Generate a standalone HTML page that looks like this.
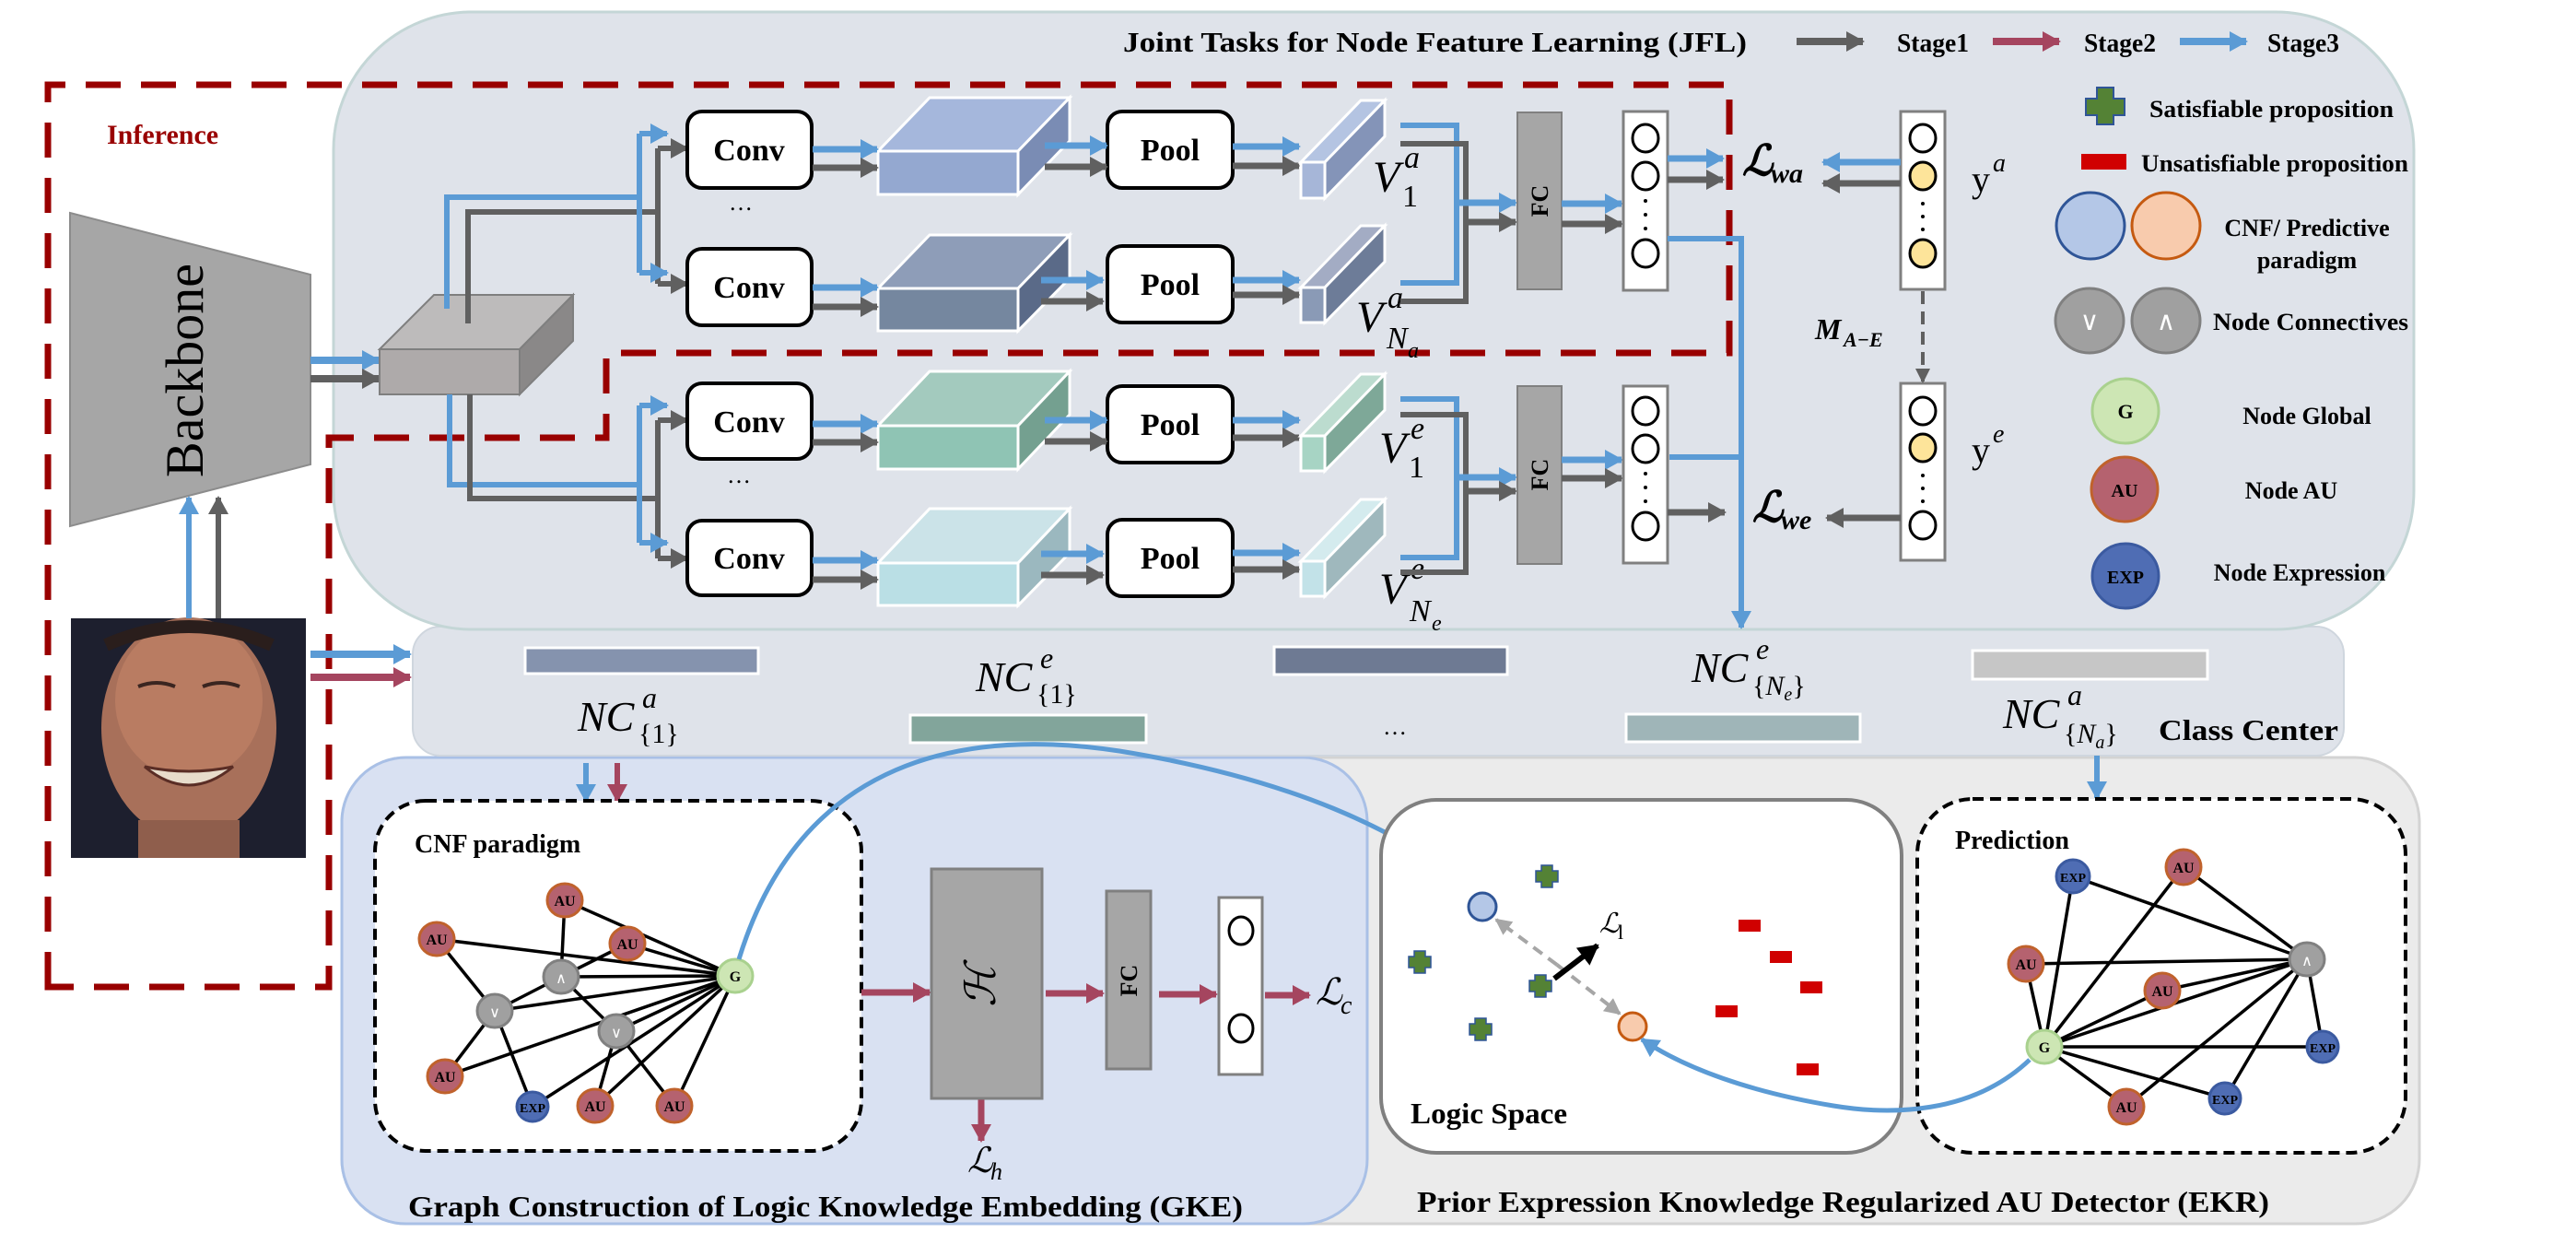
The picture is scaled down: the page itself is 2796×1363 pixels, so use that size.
<!DOCTYPE html>
<html><head><meta charset="utf-8"><style>
html,body{margin:0;padding:0;background:#fff}
svg{display:block}
text{font-family:"Liberation Serif","DejaVu Serif",serif}
.b{font-weight:bold}
.i{font-style:italic}
</style></head><body>
<svg width="2796" height="1363" viewBox="0 0 2796 1363" xmlns="http://www.w3.org/2000/svg">
<defs>
<marker id="mb" markerUnits="userSpaceOnUse" markerWidth="20" markerHeight="22" refX="18" refY="11" orient="auto"><path d="M0,0 L20,11 L0,22 z" fill="#5b9bd5"/></marker>
<marker id="mg" markerUnits="userSpaceOnUse" markerWidth="20" markerHeight="22" refX="18" refY="11" orient="auto"><path d="M0,0 L20,11 L0,22 z" fill="#606060"/></marker>
<marker id="mr" markerUnits="userSpaceOnUse" markerWidth="20" markerHeight="22" refX="18" refY="11" orient="auto"><path d="M0,0 L20,11 L0,22 z" fill="#a5455f"/></marker>
<marker id="mk" markerUnits="userSpaceOnUse" markerWidth="22" markerHeight="24" refX="20" refY="12" orient="auto"><path d="M0,0 L22,12 L0,24 z" fill="#000"/></marker>
<marker id="ml" markerUnits="userSpaceOnUse" markerWidth="18" markerHeight="18" refX="16" refY="9" orient="auto"><path d="M0,0 L18,9 L0,18 z" fill="#a6a6a6"/></marker>
<marker id="ms" markerUnits="userSpaceOnUse" markerWidth="16" markerHeight="16" refX="14" refY="8" orient="auto"><path d="M0,0 L16,8 L0,16 z" fill="#606060"/></marker>
</defs>

<rect x="371" y="822" width="2255" height="506" rx="70" fill="#ebebeb" stroke="#d3d3d3" stroke-width="3"/>
<rect x="371" y="822" width="1113" height="506" rx="70" fill="#d9e1f2" stroke="#a9c0e6" stroke-width="3"/>
<rect x="448" y="680" width="2096" height="140" rx="30" fill="#dfe3ea" stroke="#cfd6de" stroke-width="2"/>
<rect x="362" y="13" width="2258" height="670" rx="150" fill="#dfe3ea" stroke="#c4d6d6" stroke-width="3"/>

<text x="1219" y="56" font-size="31" class="b" textLength="677" lengthAdjust="spacingAndGlyphs">Joint Tasks for Node Feature Learning (JFL)</text>
<line x1="1950" y1="45" x2="2022" y2="45" stroke="#606060" stroke-width="8" marker-end="url(#mg)"/>
<text x="2059" y="56" font-size="28" class="b" textLength="78" lengthAdjust="spacingAndGlyphs">Stage1</text>
<line x1="2163" y1="45" x2="2235" y2="45" stroke="#a5455f" stroke-width="8" marker-end="url(#mr)"/>
<text x="2262" y="56" font-size="28" class="b" textLength="78" lengthAdjust="spacingAndGlyphs">Stage2</text>
<line x1="2366" y1="45" x2="2438" y2="45" stroke="#5b9bd5" stroke-width="8" marker-end="url(#mb)"/>
<text x="2461" y="56" font-size="28" class="b" textLength="78" lengthAdjust="spacingAndGlyphs">Stage3</text>

<path d="M2276,95 h18 v12 h12 v18 h-12 v10 h-18 v-10 h-12 v-18 h12 z" fill="#548235" stroke="#2f5597" stroke-width="2"/>
<text x="2333" y="127" font-size="26" class="b" textLength="265" lengthAdjust="spacingAndGlyphs">Satisfiable proposition</text>
<rect x="2259" y="167" width="49" height="17" fill="#d00000"/>
<text x="2324" y="186" font-size="26" class="b" textLength="290" lengthAdjust="spacingAndGlyphs">Unsatisfiable proposition</text>
<ellipse cx="2269" cy="245" rx="37" ry="36" fill="#b4c7e7" stroke="#2f5597" stroke-width="3"/>
<ellipse cx="2351" cy="245" rx="37" ry="36" fill="#f8cbad" stroke="#c55a11" stroke-width="3"/>
<text x="2504" y="256" font-size="26" class="b" text-anchor="middle">CNF/ Predictive</text>
<text x="2504" y="291" font-size="26" class="b" text-anchor="middle">paradigm</text>
<ellipse cx="2268" cy="348" rx="37" ry="35" fill="#a0a0a0" stroke="#808080" stroke-width="3"/>
<ellipse cx="2351" cy="348" rx="37" ry="35" fill="#a0a0a0" stroke="#808080" stroke-width="3"/>
<text x="2268" y="358" font-size="28" fill="#fff" text-anchor="middle" font-family="DejaVu Sans">∨</text>
<text x="2351" y="358" font-size="28" fill="#fff" text-anchor="middle" font-family="DejaVu Sans">∧</text>
<text x="2402" y="358" font-size="26" class="b" textLength="212" lengthAdjust="spacingAndGlyphs">Node Connectives</text>
<ellipse cx="2307" cy="446" rx="36" ry="35" fill="#cde6b4" stroke="#a9d18e" stroke-width="3"/>
<text x="2307" y="454" font-size="22" class="b" text-anchor="middle">G</text>
<text x="2504" y="460" font-size="26" class="b" text-anchor="middle">Node Global</text>
<ellipse cx="2306" cy="531" rx="36" ry="35" fill="#b5626f" stroke="#c0622c" stroke-width="3"/>
<text x="2306" y="539" font-size="20" class="b" text-anchor="middle">AU</text>
<text x="2487" y="541" font-size="26" class="b" text-anchor="middle">Node AU</text>
<ellipse cx="2307" cy="625" rx="36" ry="35" fill="#4f6db4" stroke="#3b5aa0" stroke-width="3"/>
<text x="2307" y="633" font-size="20" class="b" text-anchor="middle">EXP</text>
<text x="2496" y="630" font-size="26" class="b" text-anchor="middle">Node Expression</text>

<path d="M52,1071 L52,92 L1877,92 L1877,383 L658,383 L658,475 L370,475 L357,475 L357,1071 Z" fill="none" stroke="#990000" stroke-width="7" stroke-dasharray="38,22"/>
<text x="116" y="156" font-size="30" class="b" fill="#990000">Inference</text>

<polygon points="76,231 337,298 337,504 76,571" fill="#a6a6a6" stroke="#8c8c8c" stroke-width="2"/>
<text x="0" y="0" font-size="58" transform="translate(220,402) rotate(-90)" text-anchor="middle">Backbone</text>

<rect x="77" y="671" width="255" height="260" fill="#1d1f2e"/>
<ellipse cx="205" cy="790" rx="95" ry="120" fill="#a8705a"/>
<ellipse cx="205" cy="760" rx="80" ry="85" fill="#b97c62"/>
<rect x="150" y="890" width="110" height="41" fill="#8f5e4c"/>
<path d="M150,745 q20,-8 40,0 M220,745 q20,-8 40,0" stroke="#3a2520" stroke-width="4" fill="none"/>
<path d="M157,832 q48,40 96,0 q-48,10 -96,0z" fill="#e8dccb" stroke="#5a2d25" stroke-width="3"/>
<path d="M115,700 q90,-40 180,0" stroke="#2a1e1c" stroke-width="14" fill="none"/>

<line x1="205" y1="671" x2="205" y2="540" stroke="#5b9bd5" stroke-width="6" marker-end="url(#mb)"/>
<line x1="237" y1="671" x2="237" y2="540" stroke="#606060" stroke-width="6" marker-end="url(#mg)"/>
<line x1="337" y1="710" x2="445" y2="710" stroke="#5b9bd5" stroke-width="8" marker-end="url(#mb)"/>
<line x1="337" y1="735" x2="445" y2="735" stroke="#a5455f" stroke-width="8" marker-end="url(#mr)"/>

<line x1="337" y1="391" x2="411" y2="391" stroke="#5b9bd5" stroke-width="8" marker-end="url(#mb)"/>
<line x1="337" y1="411" x2="411" y2="411" stroke="#606060" stroke-width="8" marker-end="url(#mg)"/>

<polygon points="412,379 471,320 622,320 564,379" fill="#bdbbbb" stroke="#7f7f7f" stroke-width="2"/>
<polygon points="564,379 622,320 622,370 564,428" fill="#8a8888" stroke="#7f7f7f" stroke-width="2"/>
<rect x="412" y="379" width="152" height="49" fill="#aeaaaa" stroke="#7f7f7f" stroke-width="2"/>

<g fill="none" stroke-width="6">
<path d="M485,335 L485,214 L694,214" stroke="#5b9bd5"/>
<path d="M508,351 L508,230 L714,230" stroke="#606060"/>
<path d="M488,428 L488,526 L694,526" stroke="#5b9bd5"/>
<path d="M510,428 L510,541 L714,541" stroke="#606060"/>
<path d="M694,145 L694,296" stroke="#5b9bd5"/>
<path d="M714,161 L714,308" stroke="#606060"/>
<path d="M694,440 L694,589" stroke="#5b9bd5"/>
<path d="M714,456 L714,606" stroke="#606060"/>
</g>
<g stroke-width="6">
<line x1="694" y1="145" x2="724" y2="145" stroke="#5b9bd5" marker-end="url(#mb)"/>
<line x1="714" y1="161" x2="746" y2="161" stroke="#606060" marker-end="url(#mg)"/>
<line x1="694" y1="296" x2="724" y2="296" stroke="#5b9bd5" marker-end="url(#mb)"/>
<line x1="714" y1="308" x2="746" y2="308" stroke="#606060" marker-end="url(#mg)"/>
<line x1="694" y1="440" x2="724" y2="440" stroke="#5b9bd5" marker-end="url(#mb)"/>
<line x1="714" y1="456" x2="746" y2="456" stroke="#606060" marker-end="url(#mg)"/>
<line x1="694" y1="589" x2="724" y2="589" stroke="#5b9bd5" marker-end="url(#mb)"/>
<line x1="714" y1="606" x2="746" y2="606" stroke="#606060" marker-end="url(#mg)"/>
</g>

<g>
<rect x="746" y="121" width="135" height="83" rx="16" fill="#fff" stroke="#000" stroke-width="4"/>
<text x="813" y="174" font-size="34" class="b" text-anchor="middle">Conv</text>
<rect x="1202" y="121" width="136" height="83" rx="16" fill="#fff" stroke="#000" stroke-width="4"/>
<text x="1270" y="174" font-size="34" class="b" text-anchor="middle">Pool</text>
<polygon points="953,164 1009,106 1161,106 1105,164" fill="#a5b7dc" stroke="#fff" stroke-width="3"/>
<polygon points="1105,164 1161,106 1161,153 1105,211" fill="#7a8cb4" stroke="#fff" stroke-width="3"/>
<rect x="953" y="164" width="152" height="47" fill="#94a8d0" stroke="#fff" stroke-width="3"/>
<rect x="746" y="270" width="135" height="83" rx="16" fill="#fff" stroke="#000" stroke-width="4"/>
<text x="813" y="323" font-size="34" class="b" text-anchor="middle">Conv</text>
<rect x="1202" y="267" width="136" height="83" rx="16" fill="#fff" stroke="#000" stroke-width="4"/>
<text x="1270" y="320" font-size="34" class="b" text-anchor="middle">Pool</text>
<polygon points="953,313 1009,255 1161,255 1105,313" fill="#8e9db8" stroke="#fff" stroke-width="3"/>
<polygon points="1105,313 1161,255 1161,302 1105,359" fill="#5a6a88" stroke="#fff" stroke-width="3"/>
<rect x="953" y="313" width="152" height="46" fill="#75879f" stroke="#fff" stroke-width="3"/>
<rect x="746" y="416" width="135" height="82" rx="16" fill="#fff" stroke="#000" stroke-width="4"/>
<text x="813" y="469" font-size="34" class="b" text-anchor="middle">Conv</text>
<rect x="1202" y="419" width="136" height="83" rx="16" fill="#fff" stroke="#000" stroke-width="4"/>
<text x="1270" y="472" font-size="34" class="b" text-anchor="middle">Pool</text>
<polygon points="953,462 1009,403 1161,403 1105,462" fill="#a3cabe" stroke="#fff" stroke-width="3"/>
<polygon points="1105,462 1161,403 1161,450 1105,509" fill="#74a090" stroke="#fff" stroke-width="3"/>
<rect x="953" y="462" width="152" height="47" fill="#8fc4b4" stroke="#fff" stroke-width="3"/>
<rect x="746" y="565" width="135" height="81" rx="16" fill="#fff" stroke="#000" stroke-width="4"/>
<text x="813" y="617" font-size="34" class="b" text-anchor="middle">Conv</text>
<rect x="1202" y="564" width="136" height="83" rx="16" fill="#fff" stroke="#000" stroke-width="4"/>
<text x="1270" y="617" font-size="34" class="b" text-anchor="middle">Pool</text>
<polygon points="953,611 1009,552 1161,552 1105,611" fill="#cbe3e8" stroke="#fff" stroke-width="3"/>
<polygon points="1105,611 1161,552 1161,600 1105,657" fill="#9bb8bf" stroke="#fff" stroke-width="3"/>
<rect x="953" y="611" width="152" height="46" fill="#badfe5" stroke="#fff" stroke-width="3"/>
</g>
<text x="804" y="228" font-size="26" text-anchor="middle">…</text>
<text x="802" y="524" font-size="26" text-anchor="middle">…</text>

<g stroke-width="7">
<line x1="882" y1="162" x2="952" y2="162" stroke="#5b9bd5" marker-end="url(#mb)"/>
<line x1="882" y1="182" x2="952" y2="182" stroke="#606060" marker-end="url(#mg)"/>
<line x1="882" y1="312" x2="952" y2="312" stroke="#5b9bd5" marker-end="url(#mb)"/>
<line x1="882" y1="333" x2="952" y2="333" stroke="#606060" marker-end="url(#mg)"/>
<line x1="882" y1="460" x2="952" y2="460" stroke="#5b9bd5" marker-end="url(#mb)"/>
<line x1="882" y1="480" x2="952" y2="480" stroke="#606060" marker-end="url(#mg)"/>
<line x1="882" y1="608" x2="952" y2="608" stroke="#5b9bd5" marker-end="url(#mb)"/>
<line x1="882" y1="629" x2="952" y2="629" stroke="#606060" marker-end="url(#mg)"/>
<line x1="1134" y1="158" x2="1201" y2="158" stroke="#5b9bd5" marker-end="url(#mb)"/>
<line x1="1134" y1="181" x2="1201" y2="181" stroke="#606060" marker-end="url(#mg)"/>
<line x1="1130" y1="304" x2="1197" y2="304" stroke="#5b9bd5" marker-end="url(#mb)"/>
<line x1="1130" y1="327" x2="1197" y2="327" stroke="#606060" marker-end="url(#mg)"/>
<line x1="1134" y1="456" x2="1201" y2="456" stroke="#5b9bd5" marker-end="url(#mb)"/>
<line x1="1134" y1="479" x2="1201" y2="479" stroke="#606060" marker-end="url(#mg)"/>
<line x1="1130" y1="601" x2="1197" y2="601" stroke="#5b9bd5" marker-end="url(#mb)"/>
<line x1="1130" y1="624" x2="1197" y2="624" stroke="#606060" marker-end="url(#mg)"/>
<line x1="1338" y1="159" x2="1410" y2="159" stroke="#5b9bd5" marker-end="url(#mb)"/>
<line x1="1338" y1="180" x2="1410" y2="180" stroke="#606060" marker-end="url(#mg)"/>
<line x1="1338" y1="304" x2="1410" y2="304" stroke="#5b9bd5" marker-end="url(#mb)"/>
<line x1="1338" y1="320" x2="1410" y2="320" stroke="#606060" marker-end="url(#mg)"/>
<line x1="1338" y1="456" x2="1410" y2="456" stroke="#5b9bd5" marker-end="url(#mb)"/>
<line x1="1338" y1="475" x2="1410" y2="475" stroke="#606060" marker-end="url(#mg)"/>
<line x1="1338" y1="600" x2="1410" y2="600" stroke="#5b9bd5" marker-end="url(#mb)"/>
<line x1="1338" y1="618" x2="1410" y2="618" stroke="#606060" marker-end="url(#mg)"/>
</g>

<g stroke="#fff" stroke-width="3">
<polygon points="1412,176 1477,109 1503,109 1438,176" fill="#b4c4e2"/>
<polygon points="1438,176 1503,109 1503,148 1438,215" fill="#8494b8"/>
<rect x="1412" y="176" width="26" height="39" fill="#a6b6d8"/>
<polygon points="1412,312 1477,245 1503,245 1438,312" fill="#a3acc4"/>
<polygon points="1438,312 1503,245 1503,284 1438,350" fill="#6d7c98"/>
<rect x="1412" y="312" width="26" height="38" fill="#8a9ab6"/>
<polygon points="1412,473 1477,406 1503,406 1438,473" fill="#bcdccf"/>
<polygon points="1438,473 1503,406 1503,445 1438,511" fill="#7ea898"/>
<rect x="1412" y="473" width="26" height="38" fill="#a7d4c4"/>
<polygon points="1412,609 1477,542 1503,542 1438,609" fill="#d4ebee"/>
<polygon points="1438,609 1503,542 1503,581 1438,647" fill="#9fb8bd"/>
<rect x="1412" y="609" width="26" height="38" fill="#c2e2e8"/>
</g>
<g class="i" font-size="48">
<text x="1490" y="208">V</text><text x="1524" y="182" font-size="34">a</text><text x="1522" y="224" font-size="34" font-style="normal">1</text>
<text x="1472" y="360">V</text><text x="1506" y="334" font-size="34">a</text><text x="1505" y="378" font-size="34">N</text><text x="1528" y="388" font-size="24">a</text>
<text x="1497" y="502">V</text><text x="1531" y="476" font-size="34">e</text><text x="1529" y="518" font-size="34" font-style="normal">1</text>
<text x="1497" y="655">V</text><text x="1531" y="628" font-size="34">e</text><text x="1530" y="674" font-size="34">N</text><text x="1554" y="684" font-size="24">e</text>
</g>

<g fill="none" stroke-width="6">
<path d="M1520,136 L1581,136 L1581,307 L1520,307" stroke="#5b9bd5"/>
<path d="M1520,156 L1591,156 L1591,327 L1520,327" stroke="#606060"/>
<path d="M1520,433 L1581,433 L1581,605 L1520,605" stroke="#5b9bd5"/>
<path d="M1520,450 L1591,450 L1591,621 L1520,621" stroke="#606060"/>
</g>
<g stroke-width="7">
<line x1="1581" y1="220" x2="1645" y2="220" stroke="#5b9bd5" marker-end="url(#mb)"/>
<line x1="1591" y1="241" x2="1645" y2="241" stroke="#606060" marker-end="url(#mg)"/>
<line x1="1581" y1="518" x2="1645" y2="518" stroke="#5b9bd5" marker-end="url(#mb)"/>
<line x1="1591" y1="533" x2="1645" y2="533" stroke="#606060" marker-end="url(#mg)"/>
</g>
<rect x="1647" y="122" width="48" height="192" fill="#a6a6a6" stroke="#808080" stroke-width="2"/>
<text transform="translate(1680,218) rotate(-90)" font-size="26" class="b" text-anchor="middle">FC</text>
<rect x="1647" y="419" width="48" height="193" fill="#a6a6a6" stroke="#808080" stroke-width="2"/>
<text transform="translate(1680,515) rotate(-90)" font-size="26" class="b" text-anchor="middle">FC</text>
<g stroke-width="7">
<line x1="1695" y1="221" x2="1760" y2="221" stroke="#5b9bd5" marker-end="url(#mb)"/>
<line x1="1695" y1="243" x2="1760" y2="243" stroke="#606060" marker-end="url(#mg)"/>
<line x1="1695" y1="499" x2="1760" y2="499" stroke="#5b9bd5" marker-end="url(#mb)"/>
<line x1="1695" y1="519" x2="1760" y2="519" stroke="#606060" marker-end="url(#mg)"/>
</g>
<g stroke="#000" stroke-width="3">
<rect x="1762" y="121" width="48" height="194" fill="#fff" stroke="#808080"/>
<ellipse cx="1786" cy="150" rx="14" ry="15" fill="#fff"/>
<ellipse cx="1786" cy="191" rx="14" ry="15" fill="#fff"/>
<ellipse cx="1786" cy="275" rx="14" ry="15" fill="#fff"/>
<rect x="1762" y="419" width="48" height="192" fill="#fff" stroke="#808080"/>
<ellipse cx="1786" cy="446" rx="14" ry="15" fill="#fff"/>
<ellipse cx="1786" cy="487" rx="14" ry="15" fill="#fff"/>
<ellipse cx="1786" cy="571" rx="14" ry="15" fill="#fff"/>
<rect x="2063" y="121" width="48" height="193" fill="#fff" stroke="#808080"/>
<ellipse cx="2087" cy="150" rx="14" ry="15" fill="#fff"/>
<ellipse cx="2087" cy="191" rx="14" ry="15" fill="#fde49a"/>
<ellipse cx="2087" cy="275" rx="14" ry="15" fill="#fde49a"/>
<rect x="2063" y="416" width="48" height="192" fill="#fff" stroke="#808080"/>
<ellipse cx="2087" cy="446" rx="14" ry="15" fill="#fff"/>
<ellipse cx="2087" cy="486" rx="14" ry="15" fill="#fde49a"/>
<ellipse cx="2087" cy="570" rx="14" ry="15" fill="#fff"/>
</g>
<g fill="#000">
<circle cx="1786" cy="218" r="2"/><circle cx="1786" cy="233" r="2"/><circle cx="1786" cy="248" r="2"/>
<circle cx="1786" cy="514" r="2"/><circle cx="1786" cy="529" r="2"/><circle cx="1786" cy="544" r="2"/>
<circle cx="2087" cy="221" r="2"/><circle cx="2087" cy="235" r="2"/><circle cx="2087" cy="249" r="2"/>
<circle cx="2087" cy="516" r="2"/><circle cx="2087" cy="530" r="2"/><circle cx="2087" cy="544" r="2"/>
</g>

<g stroke-width="7">
<line x1="1810" y1="172" x2="1870" y2="172" stroke="#5b9bd5" marker-end="url(#mb)"/>
<line x1="1810" y1="195" x2="1870" y2="195" stroke="#606060" marker-end="url(#mg)"/>
<line x1="1810" y1="556" x2="1872" y2="556" stroke="#606060" marker-end="url(#mg)"/>
<line x1="2063" y1="176" x2="1979" y2="176" stroke="#5b9bd5" marker-end="url(#mb)"/>
<line x1="2063" y1="199" x2="1979" y2="199" stroke="#606060" marker-end="url(#mg)"/>
<line x1="2063" y1="562" x2="1983" y2="562" stroke="#606060" marker-end="url(#mg)"/>
</g>
<path d="M1810,259 L1890,259 L1890,681" fill="none" stroke="#5b9bd5" stroke-width="6" marker-end="url(#mb)"/>
<line x1="1812" y1="496" x2="1890" y2="496" stroke="#5b9bd5" stroke-width="6"/>
<text x="1891" y="190" font-size="46" class="b i" font-family="DejaVu Serif">ℒ</text><text x="1922" y="198" font-size="30" class="b i">wa</text>
<text x="1902" y="566" font-size="46" class="b i" font-family="DejaVu Serif">ℒ</text><text x="1933" y="574" font-size="30" class="b i">we</text>
<text x="2140" y="208" font-size="40" font-family="DejaVu Serif">y</text><text x="2163" y="186" font-size="28" class="i">a</text>
<text x="2140" y="502" font-size="40" font-family="DejaVu Serif">y</text><text x="2163" y="480" font-size="28" class="i">e</text>
<line x1="2087" y1="316" x2="2087" y2="414" stroke="#606060" stroke-width="4" stroke-dasharray="14,8" marker-end="url(#ms)"/>
<text x="1970" y="368" font-size="32" class="b i">M</text><text x="2001" y="376" font-size="22" class="b i">A−E</text>

<g stroke="#fff" stroke-width="3">
<rect x="570" y="703" width="253" height="28" fill="#8593ae"/>
<rect x="988" y="776" width="256" height="30" fill="#82a59b"/>
<rect x="1383" y="702" width="253" height="30" fill="#6e7a93"/>
<rect x="1765" y="775" width="254" height="30" fill="#9fb5b8"/>
<rect x="2141" y="706" width="255" height="31" fill="#c6c6c6"/>
</g>
<g class="i" font-size="46">
<text x="627" y="793">NC</text><text x="697" y="768" font-size="32">a</text><text x="693" y="806" font-size="30" font-style="normal">{1}</text>
<text x="1059" y="750">NC</text><text x="1129" y="725" font-size="32">e</text><text x="1125" y="763" font-size="30" font-style="normal">{1}</text>
<text x="1836" y="740">NC</text><text x="1906" y="715" font-size="32">e</text><text x="1902" y="754" font-size="30"><tspan font-style="normal">{</tspan>N<tspan font-size="20" dy="6">e</tspan><tspan font-style="normal" dy="-6">}</tspan></text>
<text x="2174" y="790">NC</text><text x="2244" y="765" font-size="32">a</text><text x="2240" y="806" font-size="30"><tspan font-style="normal">{</tspan>N<tspan font-size="20" dy="6">a</tspan><tspan font-style="normal" dy="-6">}</tspan></text>
</g>
<text x="1514" y="797" font-size="26" text-anchor="middle">…</text>
<text x="2343" y="803" font-size="32" class="b" textLength="195" lengthAdjust="spacingAndGlyphs">Class Center</text>

<line x1="636" y1="828" x2="636" y2="869" stroke="#5b9bd5" stroke-width="6" marker-end="url(#mb)"/>
<line x1="670" y1="828" x2="670" y2="869" stroke="#a5455f" stroke-width="6" marker-end="url(#mr)"/>
<rect x="407" y="869" width="528" height="380" rx="55" fill="#fff" stroke="#000" stroke-width="4" stroke-dasharray="12,7"/>
<text x="450" y="925" font-size="28" class="b">CNF paradigm</text>
<g stroke="#000" stroke-width="3.5">
<line x1="613" y1="977" x2="609" y2="1060"/><line x1="613" y1="977" x2="798" y2="1059"/>
<line x1="474" y1="1019" x2="798" y2="1059"/><line x1="474" y1="1019" x2="537" y2="1097"/>
<line x1="609" y1="1060" x2="681" y2="1024"/><line x1="681" y1="1024" x2="798" y2="1059"/>
<line x1="609" y1="1060" x2="798" y2="1059"/><line x1="609" y1="1060" x2="537" y2="1097"/>
<line x1="609" y1="1060" x2="669" y2="1119"/><line x1="537" y1="1097" x2="798" y2="1059"/>
<line x1="537" y1="1097" x2="483" y2="1168"/><line x1="537" y1="1097" x2="578" y2="1201"/>
<line x1="483" y1="1168" x2="798" y2="1059"/><line x1="578" y1="1201" x2="798" y2="1059"/>
<line x1="646" y1="1200" x2="669" y2="1119"/><line x1="646" y1="1200" x2="798" y2="1059"/>
<line x1="669" y1="1119" x2="732" y2="1200"/><line x1="732" y1="1200" x2="798" y2="1059"/>
<line x1="669" y1="1119" x2="798" y2="1059"/>
</g>
<g font-size="16" class="b" text-anchor="middle">
<g stroke-width="3"><ellipse cx="613" cy="977" rx="19" ry="18" fill="#b5626f" stroke="#c0622c"/><ellipse cx="474" cy="1019" rx="19" ry="18" fill="#b5626f" stroke="#c0622c"/><ellipse cx="681" cy="1024" rx="19" ry="18" fill="#b5626f" stroke="#c0622c"/><ellipse cx="483" cy="1168" rx="19" ry="18" fill="#b5626f" stroke="#c0622c"/><ellipse cx="646" cy="1200" rx="19" ry="18" fill="#b5626f" stroke="#c0622c"/><ellipse cx="732" cy="1200" rx="19" ry="18" fill="#b5626f" stroke="#c0622c"/>
<ellipse cx="578" cy="1201" rx="17" ry="16" fill="#4f6db4" stroke="#3b5aa0"/>
<ellipse cx="798" cy="1059" rx="19" ry="18" fill="#cde6b4" stroke="#a9d18e"/>
<ellipse cx="609" cy="1060" rx="19" ry="18" fill="#a0a0a0" stroke="#808080"/><ellipse cx="537" cy="1097" rx="19" ry="18" fill="#a0a0a0" stroke="#808080"/><ellipse cx="669" cy="1119" rx="19" ry="18" fill="#a0a0a0" stroke="#808080"/></g>
<text x="613" y="983">AU</text><text x="474" y="1025">AU</text><text x="681" y="1030">AU</text><text x="483" y="1174">AU</text><text x="646" y="1206">AU</text><text x="732" y="1206">AU</text><text x="578" y="1207" font-size="14">EXP</text><text x="798" y="1065">G</text>
<text x="609" y="1067" fill="#fff" font-family="DejaVu Sans" font-weight="normal">∧</text><text x="537" y="1104" fill="#fff" font-family="DejaVu Sans" font-weight="normal">∨</text><text x="669" y="1126" fill="#fff" font-family="DejaVu Sans" font-weight="normal">∨</text>
</g>
<path d="M802,1041 C870,820 1050,790 1215,815 C1400,845 1520,900 1602,968" fill="none" stroke="#5b9bd5" stroke-width="5" marker-end="url(#mb)"/>

<g stroke-width="7">
<line x1="935" y1="1077" x2="1009" y2="1077" stroke="#a5455f" marker-end="url(#mr)"/>
<line x1="1135" y1="1078" x2="1197" y2="1078" stroke="#a5455f" marker-end="url(#mr)"/>
<line x1="1258" y1="1079" x2="1320" y2="1079" stroke="#a5455f" marker-end="url(#mr)"/>
<line x1="1373" y1="1080" x2="1421" y2="1080" stroke="#a5455f" marker-end="url(#mr)"/>
<line x1="1065" y1="1192" x2="1065" y2="1238" stroke="#a5455f" marker-end="url(#mr)"/>
</g>
<rect x="1011" y="943" width="120" height="249" fill="#a6a6a6" stroke="#808080" stroke-width="3"/>
<text transform="translate(1080,1070) rotate(-90)" font-size="46" class="i" font-family="DejaVu Serif" text-anchor="middle">ℋ</text>
<rect x="1201" y="967" width="48" height="193" fill="#a6a6a6" stroke="#808080" stroke-width="3"/>
<text transform="translate(1234,1064) rotate(-90)" font-size="26" class="b" text-anchor="middle">FC</text>
<rect x="1323" y="974" width="47" height="192" fill="#fff" stroke="#808080" stroke-width="3"/>
<ellipse cx="1347" cy="1010" rx="13" ry="15" fill="#fff" stroke="#000" stroke-width="3"/>
<ellipse cx="1347" cy="1116" rx="13" ry="15" fill="#fff" stroke="#000" stroke-width="3"/>
<text x="1428" y="1090" font-size="40" class="i" font-family="DejaVu Serif">ℒ</text><text x="1455" y="1100" font-size="28" class="i">c</text>
<text x="1050" y="1272" font-size="38" class="i" font-family="DejaVu Serif">ℒ</text><text x="1075" y="1280" font-size="26" class="i">h</text>
<text x="443" y="1320" font-size="32" class="b" textLength="906" lengthAdjust="spacingAndGlyphs">Graph Construction of Logic Knowledge Embedding (GKE)</text>

<rect x="1499" y="868" width="565" height="383" rx="60" fill="#fff" stroke="#808080" stroke-width="4"/>
<g fill="#548235" stroke="#2f5597" stroke-width="1.5">
<path d="M1673,939 h12 v6 h6 v12 h-6 v6 h-12 v-6 h-6 v-12 h6 z"/>
<path d="M1535,1032 h12 v6 h6 v12 h-6 v6 h-12 v-6 h-6 v-12 h6 z"/>
<path d="M1666,1058 h12 v6 h6 v12 h-6 v6 h-12 v-6 h-6 v-12 h6 z"/>
<path d="M1601,1105 h12 v6 h6 v12 h-6 v6 h-12 v-6 h-6 v-12 h6 z"/>
</g>
<g fill="#d00000">
<rect x="1887" y="998" width="24" height="13"/><rect x="1921" y="1032" width="24" height="13"/><rect x="1954" y="1065" width="24" height="13"/><rect x="1862" y="1091" width="24" height="13"/><rect x="1950" y="1154" width="24" height="13"/>
</g>
<line x1="1690" y1="1047" x2="1624" y2="998" stroke="#a6a6a6" stroke-width="4" stroke-dasharray="12,8" marker-end="url(#ml)"/>
<line x1="1690" y1="1047" x2="1758" y2="1100" stroke="#a6a6a6" stroke-width="4" stroke-dasharray="12,8" marker-end="url(#ml)"/>
<ellipse cx="1609" cy="984" rx="15" ry="15" fill="#b4c7e7" stroke="#2f5597" stroke-width="3"/>
<ellipse cx="1772" cy="1114" rx="15" ry="15" fill="#f8cbad" stroke="#c55a11" stroke-width="3"/>
<line x1="1687" y1="1062" x2="1734" y2="1026" stroke="#000" stroke-width="6" marker-end="url(#mk)"/>
<text x="1736" y="1012" font-size="30" class="i" font-family="DejaVu Serif">ℒ</text><text x="1756" y="1019" font-size="22">l</text>
<text x="1531" y="1219" font-size="32" class="b" textLength="170" lengthAdjust="spacingAndGlyphs">Logic Space</text>

<line x1="2276" y1="820" x2="2276" y2="866" stroke="#5b9bd5" stroke-width="6" marker-end="url(#mb)"/>
<rect x="2081" y="867" width="530" height="384" rx="60" fill="#fff" stroke="#000" stroke-width="4" stroke-dasharray="12,7"/>
<text x="2122" y="921" font-size="28" class="b">Prediction</text>
<g stroke="#000" stroke-width="3.5">
<line x1="2250" y1="951" x2="2504" y2="1041"/><line x1="2250" y1="951" x2="2219" y2="1136"/>
<line x1="2370" y1="941" x2="2504" y2="1041"/><line x1="2370" y1="941" x2="2219" y2="1136"/>
<line x1="2199" y1="1046" x2="2504" y2="1041"/><line x1="2199" y1="1046" x2="2219" y2="1136"/>
<line x1="2347" y1="1075" x2="2504" y2="1041"/><line x1="2347" y1="1075" x2="2219" y2="1136"/>
<line x1="2219" y1="1136" x2="2504" y2="1041"/><line x1="2219" y1="1136" x2="2521" y2="1136"/>
<line x1="2219" y1="1136" x2="2415" y2="1192"/><line x1="2219" y1="1136" x2="2308" y2="1201"/>
<line x1="2308" y1="1201" x2="2504" y2="1041"/><line x1="2415" y1="1192" x2="2504" y2="1041"/>
<line x1="2504" y1="1041" x2="2521" y2="1136"/>
</g>
<path d="M2203,1150 C2140,1210 2050,1210 1990,1200 C1900,1185 1830,1160 1782,1128" fill="none" stroke="#5b9bd5" stroke-width="5" marker-end="url(#mb)"/>
<g font-size="16" class="b" text-anchor="middle">
<g stroke-width="3">
<ellipse cx="2250" cy="951" rx="18" ry="18" fill="#4f6db4" stroke="#3b5aa0"/>
<ellipse cx="2370" cy="941" rx="19" ry="19" fill="#b5626f" stroke="#c0622c"/>
<ellipse cx="2199" cy="1046" rx="19" ry="19" fill="#b5626f" stroke="#c0622c"/>
<ellipse cx="2347" cy="1075" rx="19" ry="19" fill="#b5626f" stroke="#c0622c"/>
<ellipse cx="2308" cy="1201" rx="19" ry="19" fill="#b5626f" stroke="#c0622c"/>
<ellipse cx="2504" cy="1041" rx="19" ry="18" fill="#a0a0a0" stroke="#808080"/>
<ellipse cx="2219" cy="1136" rx="19" ry="18" fill="#cde6b4" stroke="#a9d18e"/>
<ellipse cx="2521" cy="1136" rx="17" ry="17" fill="#4f6db4" stroke="#3b5aa0"/>
<ellipse cx="2415" cy="1192" rx="17" ry="17" fill="#4f6db4" stroke="#3b5aa0"/>
</g>
<text x="2250" y="957" font-size="14">EXP</text><text x="2370" y="947">AU</text><text x="2199" y="1052">AU</text><text x="2347" y="1081">AU</text><text x="2308" y="1207">AU</text>
<text x="2219" y="1142">G</text><text x="2521" y="1142" font-size="14">EXP</text><text x="2415" y="1198" font-size="14">EXP</text>
<text x="2504" y="1048" fill="#fff" font-family="DejaVu Sans" font-weight="normal">∧</text>
</g>
<text x="1538" y="1315" font-size="32" class="b" textLength="925" lengthAdjust="spacingAndGlyphs">Prior Expression Knowledge Regularized AU Detector (EKR)</text>
</svg>
</body></html>
